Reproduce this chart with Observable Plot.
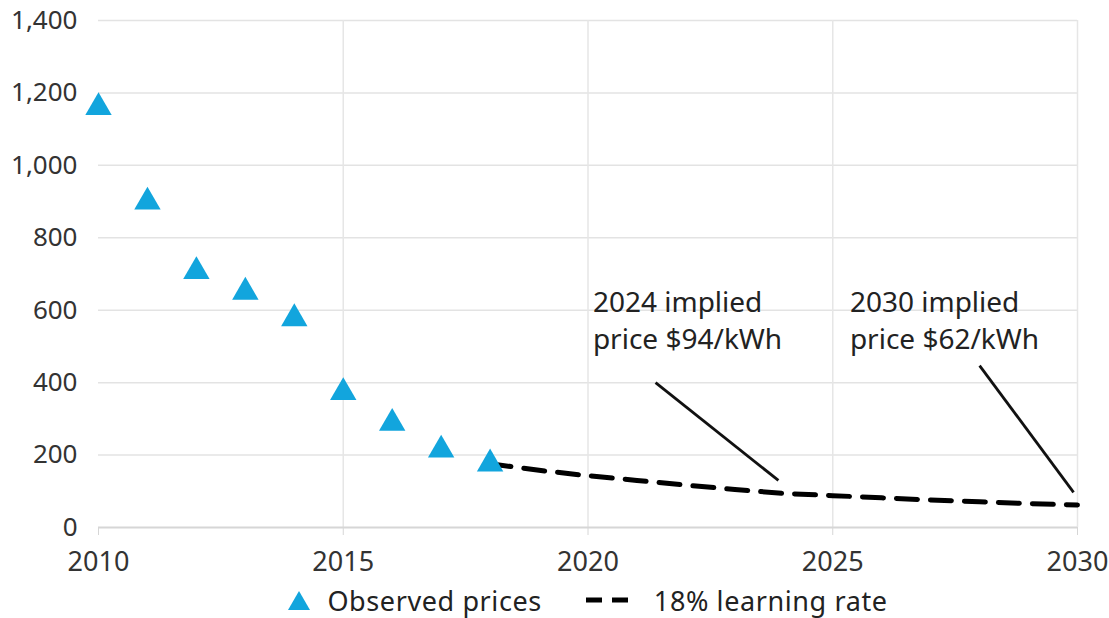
<!DOCTYPE html>
<html>
<head>
<meta charset="utf-8">
<script src="https://cdn.jsdelivr.net/npm/d3@7"></script>
<script src="https://cdn.jsdelivr.net/npm/@observablehq/plot@0.6"></script>
<style>
  html, body { margin: 0; padding: 0; background: #fff; }
  body { width: 1109px; height: 618px; overflow: hidden; font-family: "Noto Sans", sans-serif; }
  #legend { display: flex; justify-content: center; align-items: center; box-sizing: border-box;
    width: 1109px; padding-left: 98px; padding-right: 32px; height: 36px; font-size: 27px; letter-spacing: 0.6px; color: #222; }
  .item { display: flex; align-items: center; }
</style>
</head>
<body>
<div id="chart"></div>
<div id="legend"></div>
<script>
// Observed battery pack prices ($/kWh)
const obsYears = [2010, 2011, 2012, 2013, 2014, 2015, 2016, 2017, 2018];
const obsPrices = [1160, 899, 707, 650, 577, 373, 288, 214, 176];

// 18% learning rate projection
const projYears = [2018, 2019, 2020, 2021, 2022, 2023, 2024, 2025, 2026, 2027, 2028, 2029, 2030];
const projPrices = [176, 158, 143, 130, 117, 105, 94, 88, 82, 76, 71, 66, 62];

// Annotations
const annLabels = ["2024 implied\nprice $94/kWh", "2030 implied\nprice $62/kWh"];
const annX = [2020.1, 2025.35];
const annY = [668, 668];
const leaderX1 = [2021.38, 2028.0];
const leaderY1 = [400, 447];
const leaderX2 = [2023.89, 2029.92];
const leaderY2 = [130, 97];

const xTicks = [2010, 2015, 2020, 2025, 2030];
const yTicks = [0, 200, 400, 600, 800, 1000, 1200, 1400];

const blue = "#12a5dd";

const obs = obsYears.map((y, i) => ({year: y, price: obsPrices[i]}));
const proj = projYears.map((y, i) => ({year: y, price: projPrices[i]}));
const ann = annLabels.map((t, i) => ({text: t, x: annX[i], y: annY[i]}));
const leaders = leaderX1.map((x, i) => ({x1: x, y1: leaderY1[i], x2: leaderX2[i], y2: leaderY2[i]}));

const chart = Plot.plot({
  width: 1109,
  height: 582,
  marginTop: 20,
  marginLeft: 98,
  marginRight: 32,
  marginBottom: 55,
  style: {fontFamily: "Noto Sans, sans-serif", fontSize: "27px", color: "#333", background: "#fff"},
  x: {domain: [2010, 2030]},
  y: {domain: [0, 1400]},
  marks: [
    Plot.gridY(yTicks.filter(d => d > 0), {stroke: "#e3e3e3", strokeOpacity: 1, strokeWidth: 1.5}),
    Plot.gridX(xTicks.filter(d => d > 2010), {stroke: "#e6e6e6", strokeOpacity: 1, strokeWidth: 1.5}),
    Plot.ruleY([0], {stroke: "#d6d6d6", strokeWidth: 2}),
    Plot.axisY({ticks: yTicks, tickSize: 0, tickPadding: 21, tickFormat: d3.format(","), fontSize: 26, fill: "#333"}),
    Plot.axisX({ticks: xTicks, tickSize: 8, tickPadding: 16, tickFormat: d => String(d), stroke: "#d6d6d6", fontSize: 27, fill: "#333"}),
    Plot.line(proj, {x: "year", y: "price", stroke: "#000", strokeWidth: 5, strokeDasharray: "21,13"}),
    Plot.dot(obs, {x: "year", y: "price", symbol: "triangle", r: 9.8, fill: blue, stroke: "none"}),
    Plot.link(leaders, {x1: "x1", y1: "y1", x2: "x2", y2: "y2", stroke: "#111", strokeWidth: 2.8}),
    Plot.text(ann, {x: "x", y: "y", text: "text", textAnchor: "start", lineAnchor: "top", lineHeight: 1.32, fontSize: 28, fill: "#222"})
  ]
});
document.getElementById("chart").appendChild(chart);

// Legend
const legend = document.getElementById("legend");
legend.innerHTML = `
  <div class="item"><svg width="24" height="22"><path d="M12,2 L23,21 L1,21 Z" fill="${blue}"/></svg>
  <span style="margin-left:16px">Observed prices</span></div>
  <div class="item" style="margin-left:44px"><svg width="44" height="10"><line x1="0" y1="5" x2="44" y2="5" stroke="#000" stroke-width="5" stroke-dasharray="16,10"/></svg>
  <span style="margin-left:24px">18% learning rate</span></div>`;
</script>
</body>
</html>
